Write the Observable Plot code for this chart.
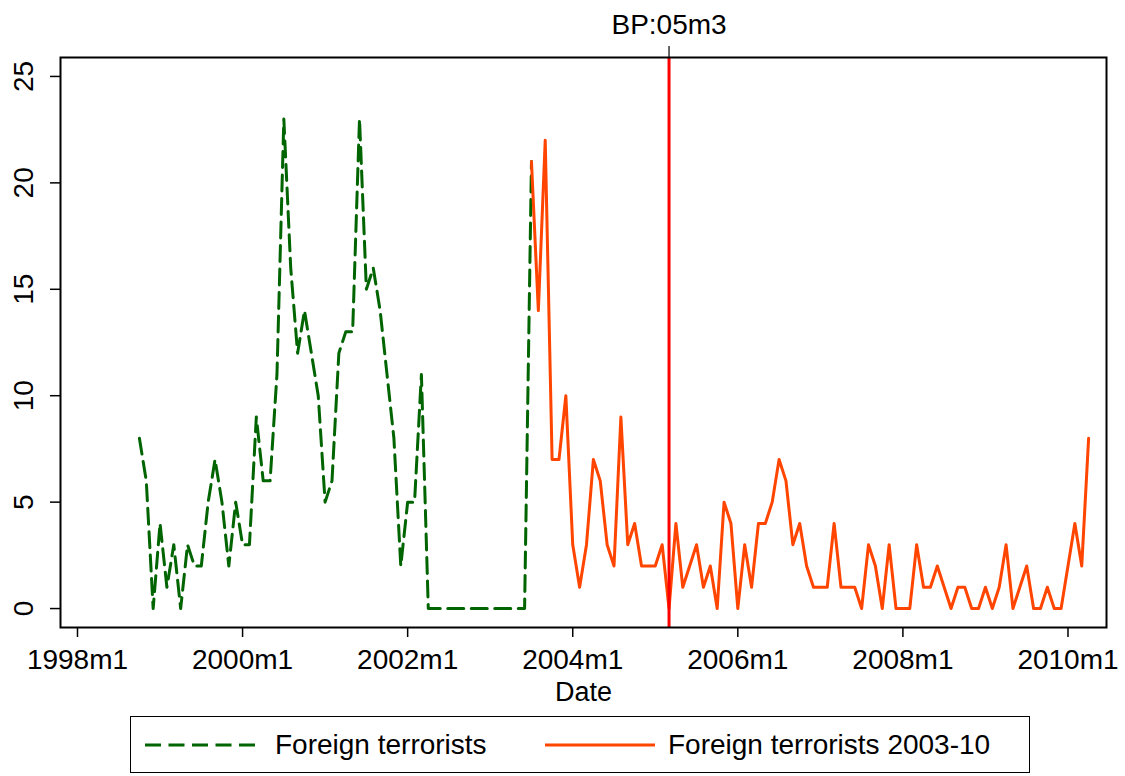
<!DOCTYPE html>
<html><head><meta charset="utf-8">
<script src="https://cdn.jsdelivr.net/npm/d3@7"></script>
<script src="https://cdn.jsdelivr.net/npm/@observablehq/plot@0.6"></script>
<style>
html,body{margin:0;padding:0;background:#fff;}
#wrap{position:relative;width:1125px;height:776px;font-family:'Liberation Sans',Arial,sans-serif;}
#legend{position:absolute;left:130px;top:716px;width:900px;height:57px;border:1.5px solid #000;box-sizing:border-box;font-size:28px;background:#fff;}
.item{position:absolute;top:0;height:100%;display:flex;align-items:center;white-space:nowrap;}
</style></head><body>
<div id="wrap"><div id="chart"></div><div id="legend"></div></div>
<script>
// ---- data (monthly) ----
const greenStart = [1998, 10];
const greenValues = [
  8, 6, 0,
  4, 1, 3, 0, 3, 2, 2, 5, 7, 5, 2, 5,
  3, 3, 9, 6, 6, 11, 23, 16, 12, 14, 12, 10,
  5, 6, 12, 13, 13, 23, 15, 16, 14, 11, 8, 2,
  5, 5, 11, 0, 0, 0, 0, 0, 0, 0, 0, 0,
  0, 0, 0, 0, 0, 0, 21
];
const orangeStart = [2003, 7];
const orangeValues = [
  21, 14, 22, 7, 7, 10,
  3, 1, 3, 7, 6, 3, 2, 9, 3, 4, 2, 2,
  2, 3, 0, 4, 1, 2, 3, 1, 2, 0, 5, 4,
  0, 3, 1, 4, 4, 5, 7, 6, 3, 4, 2, 1,
  1, 1, 4, 1, 1, 1, 0, 3, 2, 0, 3, 0,
  0, 0, 3, 1, 1, 2, 1, 0, 1, 1, 0, 0,
  1, 0, 1, 3, 0, 1, 2, 0, 0, 1, 0, 0,
  2, 4, 2, 8
];
const breakPoint = [2005, 3];
const breakLabel = "BP:05m3";
const xTickYears = [1998, 2000, 2002, 2004, 2006, 2008, 2010];
const yTicks = [0, 5, 10, 15, 20, 25];
const seriesNames = ["Foreign terrorists", "Foreign terrorists 2003-10"];
const seriesColors = ["#006400", "#ff4500"];
const axisTitle = "Date";

// ---- build ----
const baseYear = 1998;
const mIndex = (y, m) => (y - baseYear) * 12 + (m - 1);
const toRows = (start, vals) => vals.map((v, i) => ({t: mIndex(start[0], start[1]) + i, v}));
const green = toRows(greenStart, greenValues);
const orange = toRows(orangeStart, orangeValues);
const bp = mIndex(breakPoint[0], breakPoint[1]);
const xTicks = xTickYears.map(y => mIndex(y, 1));
const dash = "16,7.5";

const chart = Plot.plot({
  width: 1125,
  height: 712,
  marginLeft: 60,
  marginRight: 19,
  marginTop: 57,
  marginBottom: 85,
  style: "font-family:'Liberation Sans',Arial,sans-serif;font-size:28px;background:#fff;color:#000;overflow:visible;",
  x: {type: "linear", domain: [-2.47, 149.6]},
  y: {domain: [-0.89, 25.89]},
  marks: [
    Plot.line(green, {x: "t", y: "v", stroke: seriesColors[0], strokeWidth: 3, strokeDasharray: dash}),
    Plot.line(orange, {x: "t", y: "v", stroke: seriesColors[1], strokeWidth: 3}),
    Plot.ruleX([bp], {stroke: "#ff0000", strokeWidth: 3}),
    Plot.frame({stroke: "#000", strokeWidth: 2}),
    Plot.axisY({ticks: yTicks, tickSize: 10, tickPadding: 18, tickRotate: -90, label: null, strokeWidth: 1.5, fontSize: 28}),
    Plot.axisX({ticks: xTicks, tickSize: 10, tickPadding: 12, label: null, strokeWidth: 1.5, fontSize: 28,
      tickFormat: t => `${baseYear + t / 12}m1`}),
    Plot.axisX([bp], {anchor: "top", tickSize: 12, tickPadding: 12, label: null, strokeWidth: 1.2, fontSize: 28,
      tickFormat: () => breakLabel}),
    Plot.text([axisTitle], {frameAnchor: "bottom", dy: 73, lineAnchor: "bottom", text: d => d, fontSize: 27})
  ]
});
document.getElementById("chart").appendChild(chart);

// ---- legend ----
const lg = document.getElementById("legend");
function sample(left, color, dashed) {
  const d = document.createElement("div");
  d.className = "item";
  d.style.left = left + "px";
  d.innerHTML = `<svg width="110" height="10"><line x1="0" y1="5" x2="110" y2="5" stroke="${color}" stroke-width="3" ${dashed ? `stroke-dasharray="${dash}"` : ""}/></svg>`;
  lg.appendChild(d);
}
function label(left, text) {
  const d = document.createElement("div");
  d.className = "item";
  d.style.left = left + "px";
  d.textContent = text;
  lg.appendChild(d);
}
sample(14, seriesColors[0], true);
label(144, seriesNames[0]);
sample(414, seriesColors[1], false);
label(537, seriesNames[1]);
</script>
</body></html>
